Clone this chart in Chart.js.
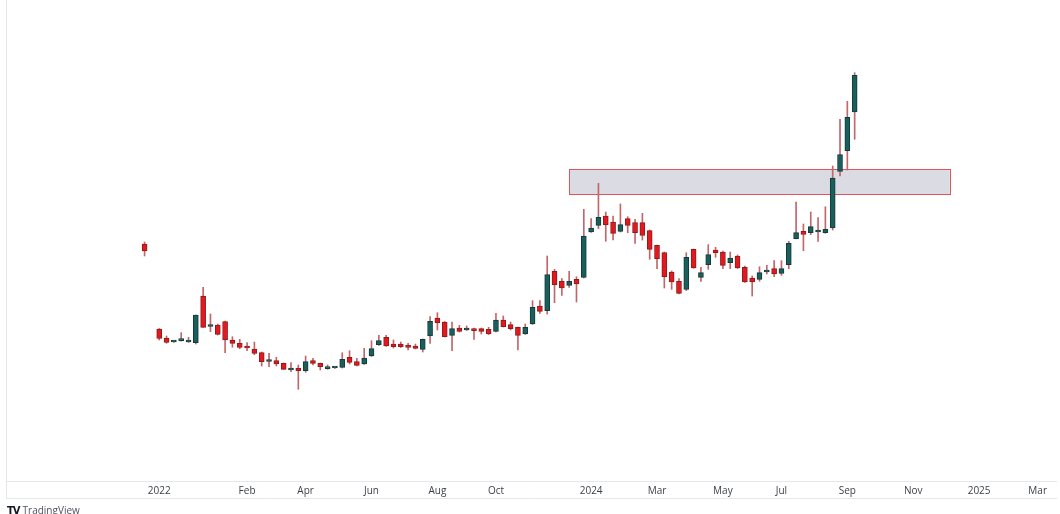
<!DOCTYPE html>
<html>
<head>
<meta charset="utf-8">
<script src="https://cdn.jsdelivr.net/npm/chart.js@4"></script>
<style>
  html, body { margin: 0; padding: 0; background: #fff; }
  #wrap { position: relative; width: 1060px; height: 514px; }
  #brand { position: absolute; left: 7px; top: 503px; font: 10px "Open Sans", sans-serif; color: #50535e; }
  #brand b { font-family: "DejaVu Sans", sans-serif; color: #131722; letter-spacing: -1px; margin-right: 3px; }
</style>
</head>
<body>
<div id="wrap">
  <canvas id="chart" width="1060" height="514"></canvas>
  <div id="brand"><b>TV</b>TradingView</div>
</div>
<script>
// weekly candles, index = bar position on the time axis (index 1 has no bar)
const openPrices  = [23.7, null, 15.2, 14.3, 13.9, 14.03, 13.9, 13.83, 18.5, 15.45, 15.6, 15.93, 14.1, 13.77, 13.5, 13.2, 12.83, 11.95, 12.03, 11.77, 11.1, 11.27, 11.03, 12.03, 11.77, 11.23, 11.3, 11.37, 12.37, 11.93, 11.7, 12.5, 13.63, 14.37, 13.7, 13.7, 13.53, 13.5, 13.17, 14.5, 16.3, 15.9, 14.57, 15.3, 15.1, 15.23, 15.23, 15.17, 14.97, 16.1, 15.63, 15.37, 14.7, 15.7, 17.5, 17.03, 20.97, 19.97, 19.57, 20.17, 20.37, 24.9, 25.57, 26.5, 25.9, 24.97, 26.23, 25.83, 25.83, 25.03, 23.57, 22.83, 20.9, 19.97, 19.17, 23.17, 20.37, 21.63, 23.1, 22.9, 21.83, 22.5, 21.37, 20.3, 20.17, 20.9, 21.23, 20.77, 21.63, 24.23, 24.97, 24.83, 24.9, 24.83, 25.3, 30.97, 33.03, 36.9];
const highPrices  = [23.9, null, 15.25, 14.5, 13.98, 14.83, 14.37, 16.6, 19.37, 16.7, 15.7, 16.0, 14.43, 14.17, 13.83, 13.9, 12.9, 12.77, 12.37, 11.8, 11.83, 11.6, 12.5, 12.27, 11.8, 11.6, 11.4, 12.83, 13.03, 12.27, 13.27, 14.03, 14.57, 14.57, 14.1, 13.9, 13.77, 13.7, 14.2, 16.43, 16.83, 15.95, 15.9, 15.57, 15.5, 15.3, 15.3, 15.37, 16.77, 16.5, 15.9, 15.4, 15.7, 18.03, 18.03, 22.5, 21.17, 20.23, 20.97, 20.43, 27.17, 26.23, 29.77, 26.9, 26.5, 27.7, 26.43, 26.17, 26.77, 25.1, 23.6, 22.9, 21.0, 20.23, 22.83, 23.2, 21.37, 23.63, 23.37, 23.0, 22.9, 22.6, 21.5, 20.5, 21.43, 21.57, 22.03, 22.03, 23.97, 27.9, 25.7, 26.9, 26.33, 27.43, 31.5, 36.17, 37.97, 40.83];
const lowPrices   = [22.5, null, 14.1, 13.77, 13.85, 13.98, 13.85, 13.7, 15.35, 14.93, 14.6, 12.83, 13.37, 13.23, 13.03, 12.63, 11.5, 11.43, 11.5, 11.15, 10.93, 9.17, 10.87, 11.6, 11.1, 11.17, 11.25, 11.3, 11.7, 11.5, 11.65, 12.45, 13.55, 13.45, 13.3, 13.35, 13.1, 13.2, 12.9, 13.77, 15.1, 14.4, 13.03, 14.9, 15.05, 14.17, 14.7, 14.65, 14.9, 15.4, 15.1, 13.1, 14.65, 15.65, 16.77, 16.7, 17.83, 18.57, 19.37, 17.9, 20.3, 24.85, 25.23, 23.97, 24.1, 24.9, 24.83, 23.77, 24.1, 22.17, 21.23, 19.3, 19.17, 18.7, 19.03, 21.27, 19.97, 21.17, 22.37, 21.23, 21.23, 21.25, 19.85, 18.5, 19.97, 20.7, 20.43, 20.57, 21.23, 24.2, 23.03, 24.63, 23.97, 24.77, 25.1, 30.5, 31.1, 34.17];
const closePrices = [23.0, null, 14.27, 13.87, 13.95, 14.17, 14.0, 16.6, 15.37, 15.5, 14.67, 14.1, 13.77, 13.37, 13.3, 12.77, 11.93, 12.0, 11.7, 11.17, 11.17, 11.03, 11.93, 11.77, 11.43, 11.33, 11.33, 12.17, 11.87, 11.57, 12.3, 13.23, 14.03, 13.5, 13.43, 13.43, 13.37, 13.27, 14.17, 15.97, 15.83, 14.43, 15.23, 14.97, 15.23, 15.03, 14.97, 14.7, 16.1, 15.43, 15.23, 14.57, 15.37, 17.37, 16.97, 20.63, 19.63, 19.3, 19.97, 19.7, 24.5, 25.3, 26.37, 25.63, 24.77, 25.63, 25.57, 24.83, 24.57, 23.17, 22.23, 20.43, 19.9, 18.77, 22.37, 21.3, 20.83, 22.63, 22.83, 21.57, 22.3, 21.3, 19.9, 19.9, 20.83, 21.1, 20.7, 21.23, 23.77, 24.83, 24.65, 25.43, 25.1, 25.17, 30.3, 32.63, 36.37, 40.57];

// time axis labels and the bar index each one sits on
const tickLabels = ['2022', 'Feb', 'Apr', 'Jun', 'Aug', 'Oct', '2024', 'Mar', 'May', 'Jul', 'Sep', 'Nov', '2025', 'Mar'];
const tickIndex  = [2, 14, 22, 31, 40, 48, 61, 70, 79, 87, 96, 105, 114, 122];

// resistance zone drawn on the chart: from bar to bar, price bottom to top
const zoneBars   = [58, 110];
const zonePrices = [28.63, 31.17];

const UP = '#1c5e5b', UP_EDGE = '#0f3d3b';
const DOWN = '#e3191f', DOWN_EDGE = '#8e1b1b';
const WICK = '#c2666a';

const bodies = [], wicks = [], fills = [], edges = [];
openPrices.forEach((o, i) => {
  if (o === null) return;
  const c = closePrices[i];
  bodies.push({ x: i, y: [o, c] });
  wicks.push({ x: i, y: [lowPrices[i], highPrices[i]] });
  fills.push(c >= o ? UP : DOWN);
  edges.push(c >= o ? UP_EDGE : DOWN_EDGE);
});

const zonePlugin = {
  id: 'zone',
  beforeDatasetsDraw(chart) {
    const { ctx, scales: { x, y } } = chart;
    const x1 = x.getPixelForValue(zoneBars[0]), x2 = x.getPixelForValue(zoneBars[1]);
    const y1 = y.getPixelForValue(zonePrices[1]), y2 = y.getPixelForValue(zonePrices[0]);
    ctx.save();
    ctx.fillStyle = 'rgba(205, 207, 218, 0.75)';
    ctx.fillRect(x1, y1, x2 - x1, y2 - y1);
    ctx.strokeStyle = '#e0545c';
    ctx.lineWidth = 1;
    ctx.strokeRect(Math.round(x1) + 0.5, Math.round(y1) + 0.5, Math.round(x2 - x1), Math.round(y2 - y1));
    ctx.restore();
  }
};

const framePlugin = {
  id: 'frame',
  afterDraw(chart) {
    const { ctx, chartArea: a } = chart;
    ctx.save();
    ctx.strokeStyle = '#e6e7eb';
    ctx.lineWidth = 1;
    ctx.beginPath();
    ctx.moveTo(a.left + 0.5, 0);
    ctx.lineTo(a.left + 0.5, a.bottom + 17);
    ctx.moveTo(a.left, a.bottom + 0.5);
    ctx.lineTo(a.right, a.bottom + 0.5);
    ctx.moveTo(a.left, a.bottom + 17.5);
    ctx.lineTo(a.right, a.bottom + 17.5);
    ctx.stroke();
    ctx.restore();
  }
};

const ctx = document.getElementById('chart').getContext('2d');
const myChart = new Chart(ctx, {
  type: 'bar',
  data: {
    datasets: [{
      label: 'body',
      data: bodies,
      backgroundColor: fills,
      borderColor: edges,
      borderWidth: 1,
      borderSkipped: false,
      barThickness: 5,
      minBarLength: 2,
      grouped: false,
      order: 0
    }, {
      label: 'wick',
      data: wicks,
      backgroundColor: WICK,
      borderWidth: 0,
      barThickness: 1,
      grouped: false,
      order: 1
    }]
  },
  options: {
    responsive: false,
    animation: false,
    layout: { padding: { left: 6, right: 3, top: 0, bottom: 13 } },
    plugins: { legend: { display: false }, tooltip: { enabled: false } },
    scales: {
      x: {
        type: 'linear',
        offset: false,
        min: -18.93,
        max: 124.64,
        grid: { display: false, drawTicks: false },
        border: { display: false },
        afterBuildTicks(axis) {
          axis.ticks = tickIndex.map(v => ({ value: v }));
        },
        ticks: {
          autoSkip: false,
          maxRotation: 0,
          padding: 4,
          color: '#3c3f48',
          font: { family: 'Open Sans', size: 10 },
          callback(value) {
            const k = tickIndex.indexOf(value);
            return k >= 0 ? tickLabels[k] : '';
          }
        }
      },
      y: {
        display: false,
        min: 0,
        max: 48.1
      }
    }
  },
  plugins: [zonePlugin, framePlugin]
});
</script>
</body>
</html>
